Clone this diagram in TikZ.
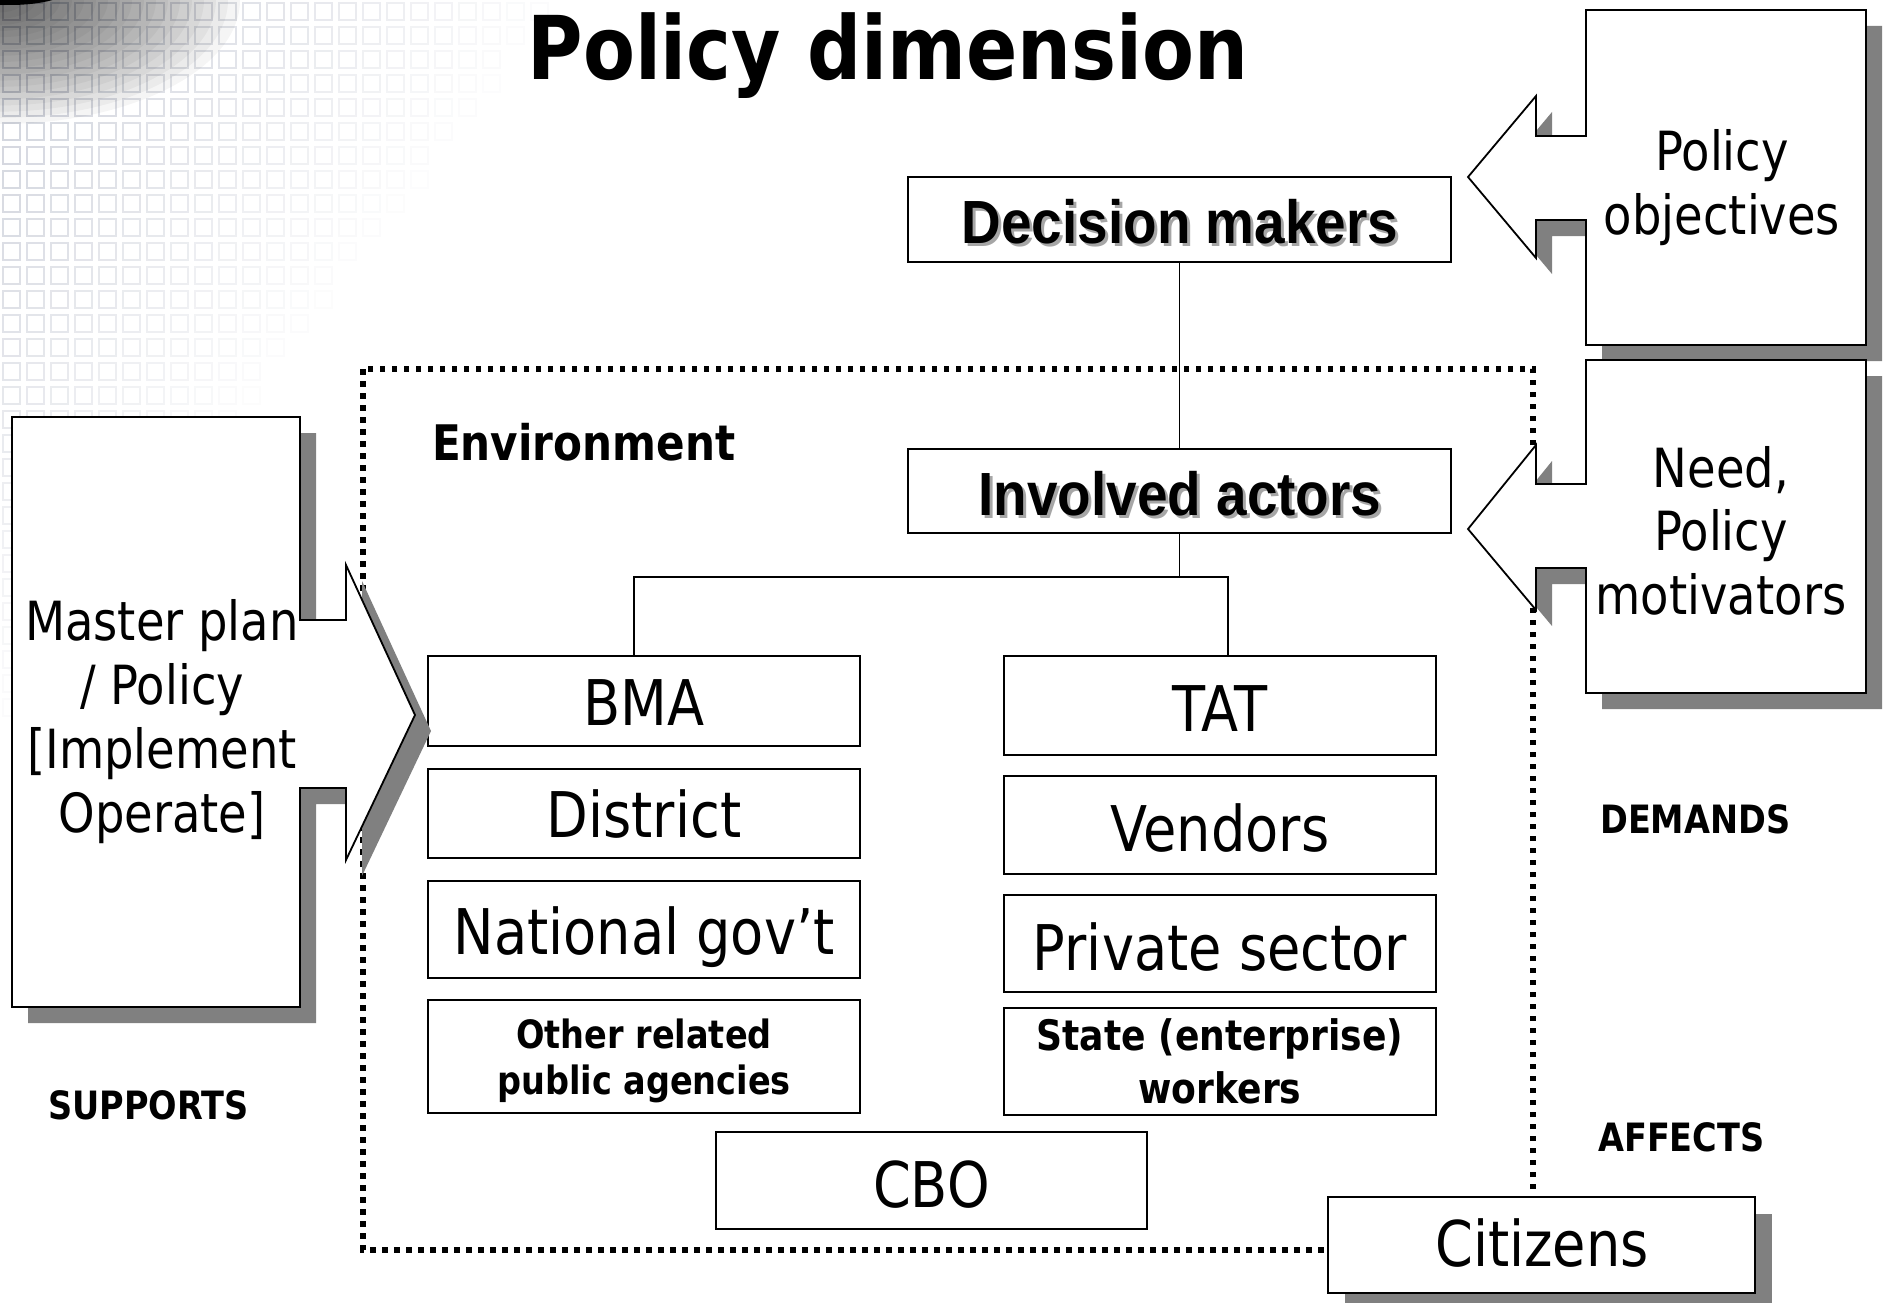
\documentclass[tikz,border=0pt]{standalone}
\usepackage{fontspec}
\usetikzlibrary{shadows}
\newfontfamily\tahf[FakeStretch=0.86]{DejaVu Sans}
\newfontfamily\narf[FakeStretch=0.9]{Liberation Sans}
\definecolor{shgray}{HTML}{808080}
\definecolor{gridcol}{RGB}{170,176,192}
\begin{document}
\begin{tikzpicture}[x=1pt,y=-1pt,
  box/.style={draw=black, line width=1.8pt, fill=white, inner sep=0pt, outer sep=0pt},
  colbox/.style={box, minimum width=432pt},
  boxlbl/.style={font=\tahf\fontsize{63}{70}\selectfont, inner sep=0pt, anchor=base},
  headlbl/.style={font=\narf\bfseries\fontsize{61}{70}\selectfont, inner sep=0pt, anchor=base},
  smallbold/.style={font=\tahf\bfseries\fontsize{39}{47}\selectfont, inner sep=0pt, anchor=base},
  sidelbl/.style={font=\tahf\bfseries\fontsize{39}{47}\selectfont, inner sep=0pt, anchor=base west},
  calltxt/.style={font=\tahf\fontsize{54}{64}\selectfont, inner sep=0pt, anchor=base},
  callout/.style={draw=black, line width=1.8pt, fill=white, line join=miter},
  shadowpath/.style={fill=shgray},
  conn/.style={draw=black, line width=1.8pt},
  envline/.style={draw=black, line width=6pt, dash pattern=on 5.5pt off 6.5pt},
  shadowbox/.style={drop shadow={shadow xshift=17pt, shadow yshift=-17pt, fill=shgray, opacity=1}}
]
\useasboundingbox (0,0) rectangle (1884,1303);
\fill[white] (0,0) rectangle (1884,1303);

% background grid
\foreach \i in {0,...,23}{
  \foreach \j in {0,...,30}{
    \pgfmathsetmacro\op{0.6*(1-\i/23.5-\j/31)}
    \ifdim\op pt>0.03pt
      \draw[gridcol, line width=1.2pt, opacity=\op] (24*\i+3,24*\j+3) rectangle +(17,17);
    \fi
  }
}
% dark corner
\foreach \k in {1,...,20}{
  \fill[black, opacity=0.04] (0,0) ellipse [x radius={12*\k}, y radius={6.2*\k}];
}
\fill[black] (10,-12) ellipse [x radius=60, y radius=17];

% title
\node[font=\tahf\bfseries\fontsize{88}{96}\selectfont, inner sep=0pt, anchor=base] (title) at (888,80) {Policy dimension};

% environment
\draw[envline] (363,369) rectangle (1533,1250);
\node[sidelbl, font=\tahf\bfseries\fontsize{49}{56}\selectfont] (envT) at (432,460) {Environment};

% decision makers & involved actors
\node[box, minimum width=543pt, minimum height=85pt] (dm) at (1179.5,219.5) {};
\node[box, minimum width=543pt, minimum height=84pt] (ia) at (1179.5,491) {};
\node[headlbl, text=gray!70] (dmS) at (1183,246) {Decision makers};
\node[headlbl] (dmT) at (1180,243) {Decision makers};
\node[headlbl, text=gray!70] (iaS) at (1183,518) {Involved actors};
\node[headlbl] (iaT) at (1180,515) {Involved actors};

% columns
\node[colbox, minimum height=90pt] (bma) at (644,701) {};
\node[colbox, minimum height=89pt] (dist) at (644,813.5) {};
\node[colbox, minimum height=97pt] (natl) at (644,929.5) {};
\node[colbox, minimum height=113pt] (other) at (644,1056.5) {};
\node[colbox, minimum height=99pt] (tat) at (1220,705.5) {};
\node[colbox, minimum height=98pt] (vend) at (1220,825) {};
\node[colbox, minimum height=97pt] (priv) at (1220,943.5) {};
\node[colbox, minimum height=107pt] (state) at (1220,1061.5) {};
\node[box, minimum width=431pt, minimum height=97pt] (cbo) at (931.5,1180.5) {};

\node[boxlbl] (bmaT) at (644,725) {BMA};
\node[boxlbl] (distT) at (644,837) {District};
\node[boxlbl] (natlT) at (644,954) {National gov’t};
\node[smallbold] (otherT1) at (644,1048) {Other related};
\node[smallbold] (otherT2) at (644,1094) {public agencies};
\node[boxlbl] (tatT) at (1220,731) {TAT};
\node[boxlbl] (vendT) at (1220,851) {Vendors};
\node[boxlbl] (privT) at (1220,970) {Private sector};
\node[smallbold, font=\tahf\bfseries\fontsize{42}{50}\selectfont] (stateT1) at (1220,1050) {State (enterprise)};
\node[smallbold, font=\tahf\bfseries\fontsize{42}{50}\selectfont] (stateT2) at (1220,1103) {workers};
\node[boxlbl] (cboT) at (931.5,1207) {CBO};

% citizens
\node[box, shadowbox, minimum width=427pt, minimum height=96pt] (cit) at (1541.5,1245) {};
\node[boxlbl] (citT) at (1542,1266) {Citizens};

% connectors
\coordinate (busL) at (634,577);
\coordinate (busR) at (1228,577);
\draw[conn] (dm.south) -- (ia.north);
\draw[conn] (ia.south) -- (ia.south |- busL);
\draw[conn] (bma.north -| busL) -- (busL) -- (busR) -- (tat.north -| busR);

% left callout
\fill[shadowpath, shift={(16,16)}] (12,417) -- (300,417) -- (300,620) -- (346,620) -- (346,565) -- (415,715) -- (346,860) -- (346,788) -- (300,788) -- (300,1007) -- (12,1007) -- cycle;
\path[callout] (12,417) -- (300,417) -- (300,620) -- (346,620) -- (346,565) -- (415,715) -- (346,860) -- (346,788) -- (300,788) -- (300,1007) -- (12,1007) -- cycle;
\node[calltxt] (mp1) at (162,640) {Master plan};
\node[calltxt] (mp2) at (162,704) {/ Policy};
\node[calltxt] (mp3) at (162,768) {[Implement};
\node[calltxt] (mp4) at (162,832) {Operate]};

% right callout 1
\fill[shadowpath, shift={(16,16)}] (1866,10) -- (1586,10) -- (1586,136) -- (1536,136) -- (1536,96) -- (1468,177) -- (1536,258) -- (1536,220) -- (1586,220) -- (1586,345) -- (1866,345) -- cycle;
\path[callout] (1866,10) -- (1586,10) -- (1586,136) -- (1536,136) -- (1536,96) -- (1468,177) -- (1536,258) -- (1536,220) -- (1586,220) -- (1586,345) -- (1866,345) -- cycle;
\node[calltxt] (po1) at (1722,171) {Policy};
\node[calltxt] (po2) at (1722,234) {objectives};

% right callout 2
\fill[shadowpath, shift={(16,16)}] (1866,360) -- (1586,360) -- (1586,484) -- (1536,484) -- (1536,445) -- (1468,529) -- (1536,610) -- (1536,568) -- (1586,568) -- (1586,693) -- (1866,693) -- cycle;
\path[callout] (1866,360) -- (1586,360) -- (1586,484) -- (1536,484) -- (1536,445) -- (1468,529) -- (1536,610) -- (1536,568) -- (1586,568) -- (1586,693) -- (1866,693) -- cycle;
\node[calltxt] (nd1) at (1721,487) {Need,};
\node[calltxt] (nd2) at (1721,550) {Policy};
\node[calltxt] (nd3) at (1721,614) {motivators};

% side labels
\node[sidelbl] (demT) at (1600,833) {DEMANDS};
\node[sidelbl] (supT) at (48,1119) {SUPPORTS};
\node[sidelbl] (affT) at (1598,1151) {AFFECTS};
\end{tikzpicture}
\end{document}
